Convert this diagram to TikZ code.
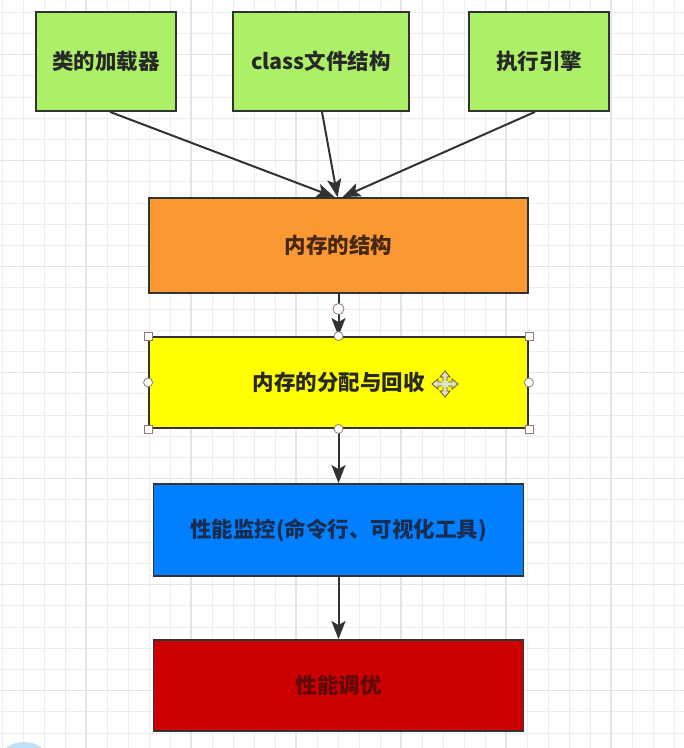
\documentclass[tikz,border=0pt]{standalone}
\usepackage{fontspec}
\newfontfamily\cjk{Noto Sans CJK SC}
\usetikzlibrary{arrows.meta}
\definecolor{gridminor}{RGB}{237,237,237}
\definecolor{gridmajor}{RGB}{228,228,228}
\definecolor{boxgreen}{RGB}{172,240,104}
\definecolor{boxorange}{RGB}{250,152,52}
\definecolor{boxyellow}{RGB}{255,255,0}
\definecolor{boxblue}{RGB}{0,128,255}
\definecolor{boxred}{RGB}{204,0,0}
\definecolor{edge}{RGB}{50,50,50}
\definecolor{txt}{RGB}{40,40,40}
\definecolor{txtorange}{RGB}{70,40,15}
\definecolor{txtblue}{RGB}{25,45,80}
\definecolor{txtred}{RGB}{95,10,10}
\definecolor{handle}{RGB}{150,120,120}
\definecolor{blob}{RGB}{190,225,245}
\definecolor{iconfill}{RGB}{225,225,200}
\definecolor{icondraw}{RGB}{90,90,40}
\tikzset{
  box/.style={draw=edge, line width=1.8pt, rectangle, inner sep=0pt,
    font=\cjk\bfseries\fontsize{21.5}{25}\selectfont, text=txt},
  conn/.style={draw=edge, line width=2pt, -{Stealth[length=18pt,width=14pt,inset=4pt]}},
  sqhandle/.style={draw=handle, fill=white, line width=0.8pt, rectangle, minimum size=8pt, inner sep=0pt},
  cihandle/.style={draw=handle, fill=white, line width=0.8pt, circle, minimum size=9pt, inner sep=0pt},
}
\begin{document}
\begin{tikzpicture}[x=1pt,y=-1pt]
\useasboundingbox (0,0) rectangle (684,748);
\fill[white] (0,0) rectangle (684,748);
% grid
\foreach \i in {0,...,32} {
  \pgfmathsetmacro{\gx}{2+21*\i}
  \draw[gridminor, line width=1pt] (\gx,0) -- (\gx,748);
}
\foreach \i in {-1,...,35} {
  \pgfmathsetmacro{\gy}{12.2+21.2*\i}
  \draw[gridminor, line width=1pt] (0,\gy) -- (684,\gy);
}
\foreach \i in {4,9,...,32} {
  \pgfmathsetmacro{\gx}{2+21*\i}
  \draw[gridmajor, line width=1.1pt] (\gx,0) -- (\gx,748);
}
\foreach \i in {2,7,...,35} {
  \pgfmathsetmacro{\gy}{12.2+21.2*\i}
  \draw[gridmajor, line width=1.1pt] (0,\gy) -- (684,\gy);
}
\begin{scope}
\clip (0,0) rectangle (684,748);
\fill[blob] (24,772) circle (30);
\end{scope}
% boxes
\node[box, fill=boxgreen, minimum width=140pt, minimum height=99pt] (b1) at (106,61.5) {类的加载器};
\node[box, fill=boxgreen, minimum width=176pt, minimum height=99pt] (b2) at (321,61.5) {class文件结构};
\node[box, fill=boxgreen, minimum width=140pt, minimum height=99pt] (b3) at (539,61.5) {执行引擎};
\node[box, fill=boxorange, minimum width=379pt, minimum height=95pt, text=txtorange] (mem) at (338.5,245.5) {内存的结构};
\node[box, fill=boxyellow, minimum width=379pt, minimum height=91pt] (alloc) at (338.5,382.5) {内存的分配与回收};
\node[box, fill=boxblue, minimum width=370pt, minimum height=92pt, text=txtblue] (mon) at (338.5,530) {性能监控(命令行、可视化工具)};
\node[box, fill=boxred, minimum width=370pt, minimum height=91pt, text=txtred] (tune) at (338.5,685.5) {性能调优};
% connectors
\draw[conn] ([xshift=4pt]b1.south) -- ([xshift=-4pt]mem.north);
\draw[conn] ([xshift=1pt]b2.south) -- ([xshift=-1pt]mem.north);
\draw[conn] ([xshift=-4pt]b3.south) -- ([xshift=4pt]mem.north);
\draw[conn] (mem.south) -- (alloc.north);
\draw[conn] (alloc.south) -- (mon.north);
\draw[conn] (mon.south) -- (tune.north);
% selection handles
\node[cihandle, minimum size=11pt] (hc) at (338.5,309) {};
\foreach \a in {north west,north east,south west,south east} {
  \node[sqhandle] at (alloc.\a) {};
}
\foreach \a in {north,south,west,east} {
  \node[cihandle] at (alloc.\a) {};
}
% move icon
\begin{scope}[shift={(445,384)}]
  \foreach \r in {0,90,180,270} {
    \begin{scope}[rotate=\r]
      \filldraw[draw=icondraw, fill=iconfill, line width=0.8pt]
        (3,-2) -- (7,-2) -- (7,-5) -- (13,0) -- (7,5) -- (7,2) -- (3,2);
    \end{scope}
  }
  \fill[iconfill] (-3.4,-2.4) rectangle (3.4,2.4);
  \fill[iconfill] (-2.4,-3.4) rectangle (2.4,3.4);
\end{scope}
\end{tikzpicture}
\end{document}
